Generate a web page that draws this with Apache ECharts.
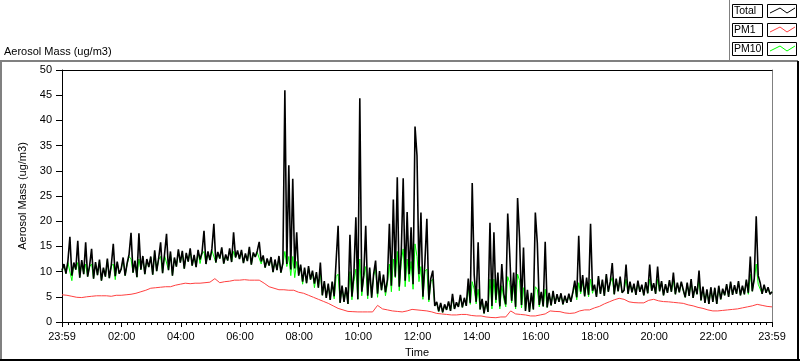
<!DOCTYPE html>
<html><head><meta charset="utf-8">
<script src="https://cdn.jsdelivr.net/npm/echarts@6/dist/echarts.min.js"></script>
<style>html,body{margin:0;padding:0;background:#fff}#c{width:800px;height:361px}</style>
</head><body><div id="c"></div>
<script>
// ---- data ----
const tickLabels = ['23:59','02:00','04:00','06:00','08:00','10:00','12:00','14:00','16:00','18:00','20:00','22:00','23:59'];
const seriesNames = ['Total','PM1','PM10'];
const totalStepMin = 4;   // minutes between Total / PM10 samples (from 23:59)
const pm1StepMin = 10;    // minutes between PM1 samples

const total = [
 10.2,11.5,9.6,12.1,16.9,9.2,11.8,10.4,16.1,8.8,12.3,9.5,15.8,9.0,11.2,
 14.5,8.6,11.9,9.3,12.4,8.2,10.8,9.0,12.6,8.7,11.3,15.5,9.1,12.0,9.6,
 10.5,12.8,9.2,11.6,13.4,17.7,9.8,12.2,8.9,17.6,10.4,13.1,9.5,12.5,10.9,
 13.0,9.4,14.2,10.1,12.6,15.8,9.7,13.5,17.5,10.3,14.0,9.2,12.8,11.0,14.4,
 11.8,14.1,10.6,13.7,12.0,14.6,11.2,13.3,10.9,14.3,12.4,13.8,18.1,11.5,14.0,
 12.3,14.5,19.5,11.8,13.9,12.6,14.8,11.6,13.4,12.2,14.6,11.9,17.8,12.8,14.2,
 12.5,14.3,11.7,13.6,12.1,14.9,11.4,13.8,12.9,14.1,15.9,12.0,13.2,10.8,12.6,
 11.2,12.9,9.9,12.4,10.3,13.1,9.8,11.7,46.0,11.5,31.1,10.4,28.4,10.6,17.8,
 9.2,11.4,8.0,10.8,7.7,11.1,8.4,10.2,7.6,9.9,6.8,11.8,5.3,8.1,4.8,
 7.6,4.4,8.0,5.1,12.2,19.1,3.8,7.2,4.0,6.9,3.6,17.3,5.0,9.6,20.8,
 4.5,44.4,6.0,9.2,19.1,5.2,10.8,4.8,9.5,12.2,5.6,10.1,6.3,9.4,5.9,
 8.4,19.5,7.2,24.3,9.0,28.7,7.0,13.5,28.5,8.2,21.8,9.5,18.8,7.5,38.8,
 33.0,9.5,21.7,5.0,11.8,20.5,4.4,8.6,10.2,3.2,4.0,2.1,3.8,1.9,3.5,
 2.4,4.1,2.2,5.6,2.6,3.9,3.0,5.4,2.9,4.8,3.2,8.6,3.8,27.6,9.4,
 4.0,15.8,2.5,4.6,1.7,4.2,2.0,19.7,3.2,17.8,4.4,9.8,3.1,11.5,5.6,
 3.5,21.5,13.6,4.2,9.8,3.0,24.6,16.7,3.4,14.8,2.2,6.4,2.0,5.8,2.5,
 21.7,15.7,3.4,6.0,3.1,15.9,2.9,5.8,3.3,6.2,3.6,5.5,4.0,5.7,3.5,
 5.2,3.8,5.6,4.0,5.9,8.2,4.9,17.1,6.0,9.3,5.1,8.8,5.4,19.5,6.2,
 7.4,5.0,9.1,5.6,8.4,5.2,9.5,6.0,8.0,11.7,5.5,8.6,6.1,9.0,5.8,
 6.3,11.4,5.6,8.0,5.9,7.6,5.4,8.2,6.0,7.4,5.3,7.9,5.7,11.4,6.2,
 7.7,5.6,11.0,6.1,8.1,5.3,7.5,5.8,8.3,6.0,9.8,5.5,7.8,5.9,8.0,
 6.4,4.9,7.8,5.2,8.5,4.8,7.1,5.5,10.2,4.3,7.0,3.8,6.5,3.6,6.9,
 4.0,6.8,3.6,7.2,4.5,6.6,5.3,7.5,5.0,8.0,5.4,7.3,5.6,8.1,5.3,
 7.2,5.5,8.4,5.8,13.0,6.1,8.6,21.0,9.2,7.8,5.6,7.4,5.8,6.9,5.5,6.0
];

const pm10 = [
 10.2,11.3,9.6,11.8,11.5,8.2,11.5,10.4,11.8,8.8,12.0,9.5,11.5,9.0,11.0,
 11.5,8.6,11.7,9.3,12.1,8.2,10.6,9.0,12.3,8.7,11.1,11.5,8.4,11.8,9.6,
 10.5,12.5,9.2,11.4,13.0,12.5,9.8,12.0,8.9,12.5,10.4,12.8,9.5,12.3,10.9,
 12.8,9.4,13.8,10.1,12.4,13.0,9.7,13.2,13.5,10.3,13.7,9.2,12.6,11.0,14.0,
 11.8,13.8,10.6,13.4,12.0,14.3,11.2,13.0,10.9,14.0,11.6,13.5,14.0,11.5,13.7,
 12.3,14.2,14.5,11.8,13.6,12.6,14.5,11.6,13.1,12.2,14.3,11.9,14.0,12.8,13.9,
 12.5,14.0,11.7,13.3,12.1,14.6,11.4,13.5,12.9,13.8,14.0,11.5,13.0,10.8,12.4,
 11.2,12.6,9.9,12.1,10.3,12.8,9.8,11.5,14.0,11.0,13.0,9.2,13.0,8.8,12.0,
 9.2,11.1,7.5,10.5,7.7,10.8,8.4,10.0,6.8,9.7,6.8,9.8,5.3,7.9,4.8,
 7.4,4.4,7.8,4.6,9.0,9.5,3.8,7.0,4.0,6.7,3.6,10.0,4.4,8.0,10.5,
 4.5,12.5,5.2,9.0,11.0,4.6,10.5,4.8,9.2,10.5,4.9,9.8,6.3,9.1,5.2,
 7.6,11.5,6.0,12.5,8.8,14.0,6.2,12.0,14.5,7.0,12.5,8.0,12.0,6.5,15.5,
 13.0,8.0,11.0,4.5,10.0,10.5,4.0,8.0,8.5,3.2,3.8,2.1,3.6,1.9,3.3,
 2.4,3.9,2.2,4.8,2.6,3.7,3.0,5.0,2.9,4.6,3.2,6.8,3.5,8.0,6.5,
 3.6,6.5,2.5,4.4,1.7,4.0,2.0,8.5,2.6,8.5,3.8,7.5,2.6,7.2,4.6,
 3.0,9.0,7.8,3.8,7.2,2.6,9.5,8.2,2.8,6.8,2.2,6.0,2.0,5.5,2.5,
 7.0,6.5,3.0,5.8,3.1,6.5,2.9,5.6,3.3,6.0,3.6,5.3,4.0,5.5,3.5,
 5.0,3.8,5.4,4.0,5.7,7.2,4.4,7.8,5.6,8.0,5.1,7.8,5.0,8.5,5.7,
 7.2,5.0,8.8,5.6,8.2,5.2,9.2,6.0,7.8,8.8,5.5,8.4,6.1,8.7,5.8,
 6.3,8.5,5.6,7.8,5.9,7.4,5.4,8.0,6.0,7.2,5.3,7.7,5.7,8.5,6.2,
 7.5,5.6,8.5,6.1,7.9,5.3,7.3,5.8,8.1,6.0,8.3,5.5,7.6,5.9,7.8,
 6.2,4.9,7.6,5.2,8.2,4.8,6.9,5.5,8.5,4.3,6.8,3.8,6.3,3.6,6.7,
 4.0,6.6,3.6,7.0,4.5,6.4,5.3,7.3,5.0,7.8,5.4,7.1,5.6,7.9,5.3,
 7.0,5.5,8.2,5.5,9.5,6.1,8.4,11.5,7.5,7.6,5.6,7.2,5.8,6.7,5.5,6.0
];

const pm1 = [
 5.4,5.3,5.1,4.9,4.85,5.0,5.1,5.2,5.2,5.2,
 5.1,5.3,5.3,5.4,5.5,5.7,6.0,6.3,6.7,6.8,
 6.9,7.0,7.0,7.3,7.5,7.7,7.6,7.7,7.7,7.8,
 7.9,8.6,7.8,8.0,8.1,8.3,8.3,8.4,8.3,8.3,
 8.3,7.7,7.0,6.7,6.4,6.4,6.3,6.3,5.9,5.7,
 5.3,4.9,4.5,4.1,3.7,3.2,2.7,2.4,2.1,2.05,
 2.0,2.0,2.0,2.0,3.3,2.6,2.4,2.2,2.1,2.0,
 2.2,2.5,2.4,2.3,2.2,2.0,1.7,1.6,1.5,1.4,
 1.4,1.5,1.5,1.3,1.2,1.2,1.0,0.9,0.85,1.0,
 1.0,2.2,1.6,1.5,1.4,1.2,1.2,1.4,1.6,2.2,
 2.1,2.05,1.8,1.7,1.8,2.2,2.4,2.4,2.8,3.1,
 3.6,4.0,4.4,4.7,4.5,4.0,3.85,3.8,3.8,4.3,
 4.5,4.2,4.05,4.0,3.9,3.8,3.7,3.4,3.2,2.9,
 2.7,2.4,2.2,2.2,2.3,2.4,2.5,2.6,2.8,3.0,
 3.2,3.5,3.3,3.1,3.0
];

// ---- build ----
const FONT = 'Liberation Sans';
const START = 23*60+59;
const tickValues = tickLabels.map((s,i) => {
  const [h,m] = s.split(':').map(Number);
  let v = ((h*60+m) - START + 1440) % 1440;
  if (i > 0 && v === 0) v = 1440;
  return v;
});
const labelOf = {};
tickValues.forEach((v,i) => labelOf[v] = tickLabels[i]);
const minorTicks = [];
for (let i = 0; i < tickValues.length-1; i++) {
  const a = tickValues[i], b = tickValues[i+1];
  for (let k = 1; k < 10; k++) minorTicks.push(a + (b-a)*k/10);
}
const toPairs = (arr, step) => arr.map((v,i) => [i*step, v]);

const chart = echarts.init(document.getElementById('c'), null, {renderer:'canvas'});
const txt = {fontFamily: FONT, fontSize: 11, color: '#000'};

function legendRow(y, name, color) {
  return [
    {type:'rect', shape:{x:732.5,y:y+0.5,width:30,height:13}, style:{fill:'#fff',stroke:'#000',lineWidth:1}},
    {type:'text', x:734, y:y+2, style:{text:name, font:'10.5px "'+FONT+'"', fill:'#000'}},
    {type:'rect', shape:{x:767.5,y:y+0.5,width:29,height:13}, style:{fill:'#fff',stroke:'#000',lineWidth:1}},
    {type:'polyline', shape:{points:[[770,y+9],[780,y+4],[787,y+9],[795,y+4]]}, style:{stroke:color,lineWidth:1,fill:null}}
  ];
}

chart.setOption({
  animation: false,
  backgroundColor: '#fff',
  textStyle: {fontFamily: FONT},
  grid: {left: 62, top: 70, right: 28, bottom: 39, containLabel: false, outerBoundsMode: 'none'},
  xAxis: [
    {type:'value', min:0, max:1440, position:'bottom',
     name:'Time', nameLocation:'middle', nameGap:25, nameTextStyle:txt,
     axisLine:{show:true, onZero:false, lineStyle:{color:'#000', width:1}},
     axisTick:{show:true, length:5, inside:false, lineStyle:{color:'#000'}, customValues: tickValues},
     axisLabel:{show:true, ...txt, margin:9, customValues: tickValues, formatter: v => labelOf[v] || ''},
     splitLine:{show:false}},
    {type:'value', min:0, max:1440, position:'bottom', gridIndex:0,
     axisLine:{show:false, onZero:false},
     axisTick:{show:true, length:3, lineStyle:{color:'#000'}, customValues: minorTicks},
     axisLabel:{show:false}, splitLine:{show:false}},
    {type:'value', min:0, max:1440, position:'top', gridIndex:0,
     axisLine:{show:true, onZero:false, lineStyle:{color:'#000'}},
     axisTick:{show:false}, axisLabel:{show:false}, splitLine:{show:false}}
  ],
  yAxis: [
    {type:'value', min:0, max:50, interval:5, position:'left',
     name:'Aerosol Mass (ug/m3)', nameLocation:'middle', nameGap:27, nameTextStyle:txt,
     axisLine:{show:true, onZero:false, lineStyle:{color:'#000'}},
     axisTick:{show:true, length:6, lineStyle:{color:'#000'}},
     axisLabel:{...txt, margin:10},
     splitLine:{show:false}},
    {type:'value', min:0, max:50, position:'right',
     axisLine:{show:true, onZero:false, lineStyle:{color:'#808080'}},
     axisTick:{show:false}, axisLabel:{show:false}, splitLine:{show:false}}
  ],
  series: [
    {name: seriesNames[2], type:'line', data: toPairs(pm10, totalStepMin), showSymbol:false, symbol:'none',
     lineStyle:{color:'#00ff00', width:1}, itemStyle:{color:'#00ff00'}},
    {name: seriesNames[0], type:'line', data: toPairs(total, totalStepMin), showSymbol:false, symbol:'none',
     lineStyle:{color:'#000000', width:1.6}, itemStyle:{color:'#000'}},
    {name: seriesNames[1], type:'line', data: toPairs(pm1, pm1StepMin), showSymbol:false, symbol:'none',
     lineStyle:{color:'#ff4040', width:1}, itemStyle:{color:'#ff4040'}}
  ],
  graphic: [
    {type:'text', x:4, y:46, style:{text:'Aerosol Mass (ug/m3)', font:'11px "'+FONT+'"', fill:'#000'}},
    {type:'line', shape:{x1:0,y1:61,x2:798,y2:61}, style:{stroke:'#808080',lineWidth:2}},
    {type:'line', shape:{x1:1,y1:61,x2:1,y2:361}, style:{stroke:'#808080',lineWidth:2}},
    {type:'line', shape:{x1:798,y1:61,x2:798,y2:361}, style:{stroke:'#000',lineWidth:2}},
    {type:'line', shape:{x1:0,y1:360,x2:800,y2:360}, style:{stroke:'#000',lineWidth:2}},
    {type:'line', shape:{x1:729.5,y1:0,x2:729.5,y2:61}, style:{stroke:'#808080',lineWidth:1}},
    ...legendRow(4, seriesNames[0], '#000'),
    ...legendRow(23, seriesNames[1], '#ff4040'),
    ...legendRow(42, seriesNames[2], '#00ff00')
  ]
});
</script>
</body></html>
